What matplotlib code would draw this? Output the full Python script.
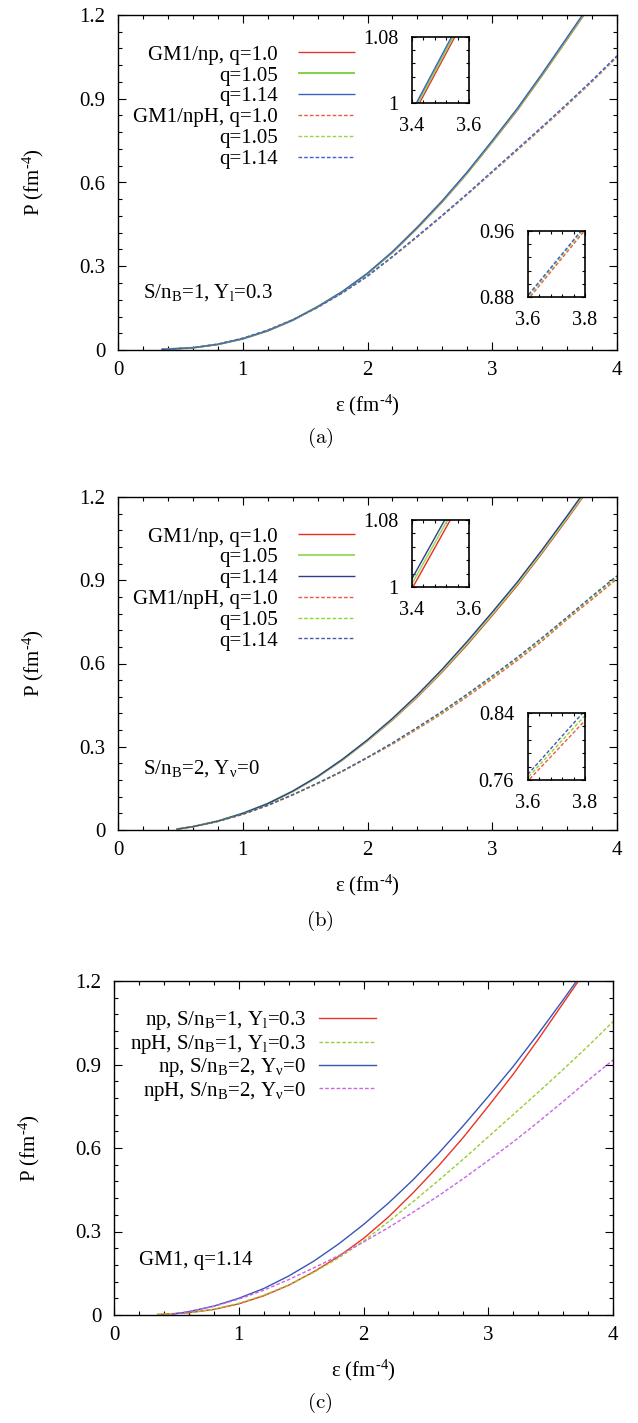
import matplotlib
matplotlib.use("Agg")
import matplotlib.pyplot as plt
from matplotlib.ticker import FixedLocator, MultipleLocator, AutoMinorLocator

plt.rcParams['font.family'] = ['Liberation Serif', 'DejaVu Serif']
plt.rcParams['mathtext.fontset'] = 'custom'
plt.rcParams['mathtext.rm'] = 'Liberation Serif'
plt.rcParams['mathtext.it'] = 'Liberation Serif:italic'
plt.rcParams['mathtext.default'] = 'rm'
plt.rcParams['axes.linewidth'] = 1.0

# ---------------- data: pressure P (fm^-4) vs energy density eps (fm^-4) ----------------
# S/nB = 1, Y_l = 0.3
eps_a_np = [0.35, 0.6, 0.8, 1.0, 1.2, 1.4, 1.6, 1.8, 2.0, 2.2, 2.4, 2.6, 2.8, 3.0, 3.2, 3.4, 3.6, 3.8]
np_a_q100 = [0.002, 0.008, 0.020, 0.040, 0.068, 0.106, 0.154, 0.208, 0.273, 0.349, 0.436, 0.530, 0.633, 0.744, 0.858, 0.983, 1.112, 1.242]
np_a_q105 = [0.002, 0.008, 0.020, 0.040, 0.069, 0.107, 0.155, 0.209, 0.274, 0.351, 0.439, 0.533, 0.636, 0.747, 0.862, 0.987, 1.116, 1.246]
np_a_q114 = [0.002, 0.008, 0.020, 0.040, 0.069, 0.107, 0.155, 0.210, 0.275, 0.352, 0.440, 0.535, 0.638, 0.750, 0.865, 0.990, 1.120, 1.250]

eps_a_nph = [0.35, 0.6, 0.8, 1.0, 1.2, 1.4, 1.6, 1.8, 2.0, 2.2, 2.4, 2.6, 2.8, 3.0, 3.2, 3.4, 3.6, 3.8, 4.0]
nph_a_q100 = [0.002, 0.008, 0.021, 0.042, 0.071, 0.108, 0.153, 0.205, 0.264, 0.333, 0.405, 0.480, 0.557, 0.636, 0.715, 0.795, 0.877, 0.961, 1.049]
nph_a_q105 = [0.002, 0.008, 0.021, 0.042, 0.071, 0.108, 0.153, 0.205, 0.265, 0.334, 0.407, 0.482, 0.559, 0.638, 0.718, 0.798, 0.880, 0.964, 1.052]
nph_a_q114 = [0.002, 0.008, 0.021, 0.042, 0.071, 0.108, 0.153, 0.205, 0.265, 0.335, 0.408, 0.483, 0.560, 0.640, 0.720, 0.800, 0.882, 0.966, 1.054]

# S/nB = 2, Y_nu = 0
eps_b_np = [0.47, 0.6, 0.8, 1.0, 1.2, 1.4, 1.6, 1.8, 2.0, 2.2, 2.4, 2.6, 2.8, 3.0, 3.2, 3.4, 3.6, 3.8]
np_b_q100 = [0.003, 0.012, 0.032, 0.059, 0.094, 0.138, 0.191, 0.252, 0.321, 0.396, 0.479, 0.570, 0.668, 0.773, 0.881, 0.998, 1.120, 1.246]
np_b_q105 = [0.003, 0.012, 0.032, 0.060, 0.095, 0.139, 0.192, 0.254, 0.323, 0.399, 0.483, 0.575, 0.674, 0.779, 0.887, 1.004, 1.126, 1.252]
np_b_q114 = [0.003, 0.012, 0.032, 0.060, 0.095, 0.140, 0.193, 0.255, 0.325, 0.402, 0.487, 0.580, 0.680, 0.785, 0.893, 1.010, 1.132, 1.258]

eps_b_nph = [0.47, 0.6, 0.8, 1.0, 1.2, 1.4, 1.6, 1.8, 2.0, 2.2, 2.4, 2.6, 2.8, 3.0, 3.2, 3.4, 3.6, 3.8, 4.0]
nph_b_q100 = [0.003, 0.012, 0.031, 0.056, 0.088, 0.126, 0.167, 0.211, 0.260, 0.309, 0.364, 0.420, 0.481, 0.545, 0.611, 0.681, 0.759, 0.831, 0.905]
nph_b_q105 = [0.003, 0.012, 0.031, 0.057, 0.089, 0.127, 0.168, 0.212, 0.261, 0.312, 0.367, 0.424, 0.486, 0.550, 0.617, 0.687, 0.763, 0.837, 0.910]
nph_b_q114 = [0.003, 0.012, 0.031, 0.057, 0.089, 0.127, 0.169, 0.213, 0.262, 0.314, 0.370, 0.428, 0.490, 0.555, 0.622, 0.693, 0.767, 0.843, 0.916]

x_ticks = [0, 1, 2, 3, 4]
x_ticklabels = ['0', '1', '2', '3', '4']
y_ticks = [0, 0.3, 0.6, 0.9, 1.2]
y_ticklabels = ['0', '0.3', '0.6', '0.9', '1.2']

labels_ab = ['GM1/np, q=1.0', 'q=1.05', 'q=1.14', 'GM1/npH, q=1.0', 'q=1.05', 'q=1.14']
labels_c = ['np, S/n$_{B}$=1, Y$_{l}$=0.3', 'npH, S/n$_{B}$=1, Y$_{l}$=0.3',
            'np, S/n$_{B}$=2, Y$_{ν}$=0', 'npH, S/n$_{B}$=2, Y$_{ν}$=0']

XLABEL = 'ε (fm$^{‐4}$)'
YLABEL = 'P (fm$^{‐4}$)'

# ---------------- layout helpers ----------------
W, H = 638, 1423
fig = plt.figure(figsize=(W / 100, H / 100), dpi=100)


def box(x0, y0, x1, y1):
    return [x0 / W, 1 - y1 / H, (x1 - x0) / W, (y1 - y0) / H]


DASH = (2.6, 1.5)
FS_TICK = 15
FS_TEXT = 15


def style_main(ax):
    ax.set_xlim(0, 4)
    ax.set_ylim(0, 1.2)
    ax.xaxis.set_major_locator(FixedLocator(x_ticks))
    ax.set_xticklabels(x_ticklabels)
    ax.xaxis.set_minor_locator(MultipleLocator(0.2))
    ax.yaxis.set_major_locator(FixedLocator(y_ticks))
    ax.set_yticklabels(y_ticklabels)
    ax.yaxis.set_minor_locator(AutoMinorLocator(5))
    ax.tick_params(which='both', direction='in', top=True, right=True, labelsize=FS_TICK, width=0.8)
    ax.tick_params(which='major', length=5.5)
    ax.tick_params(which='minor', length=2.8)
    ax.tick_params(axis='x', pad=8)
    ax.tick_params(axis='y', pad=9)
    ax.set_xlabel(XLABEL, fontsize=FS_TICK)
    ax.xaxis.set_label_coords(0.5, -0.165)
    ax.xaxis.label.set_verticalalignment('center')
    ax.set_ylabel(YLABEL, fontsize=FS_TICK)
    ax.yaxis.set_label_coords(-0.17, 0.5)
    ax.yaxis.label.set_verticalalignment('center')


def style_inset(ax, xr, yr, xl, yl):
    ax.set_xlim(*xr)
    ax.set_ylim(*yr)
    ax.set_xticks(list(xr))
    ax.set_xticklabels(xl)
    ax.set_yticks(list(yr))
    ax.set_yticklabels(yl)
    ax.xaxis.set_minor_locator(AutoMinorLocator(5))
    ax.yaxis.set_minor_locator(AutoMinorLocator(5))
    ax.tick_params(which='both', direction='in', top=True, right=True, labelsize=14.5, width=0.8)
    ax.tick_params(which='major', length=3)
    ax.tick_params(which='minor', length=2.4)
    ax.tick_params(axis='x', pad=10)
    ax.tick_params(axis='y', pad=10)
    for s in ax.spines.values():
        s.set_linewidth(1.2)


def draw_set(ax, eps_np, np_series, eps_nph, nph_series, cols_np, cols_nph, widths):
    handles = []
    for i, (ys, c) in enumerate(zip(np_series, cols_np)):
        h, = ax.plot(eps_np, ys, color=c, lw=widths[i], solid_capstyle='butt')
        handles.append(h)
    for ys, c in zip(nph_series, cols_nph):
        h, = ax.plot(eps_nph, ys, color=c, lw=1.0, dashes=DASH)
        handles.append(h)
    return handles


def add_legend(ax, handles, labels, anchor, textpad, spacing):
    ax.legend(handles, labels, loc='upper right', bbox_to_anchor=anchor, frameon=False,
              markerfirst=False, fontsize=FS_TEXT, handlelength=2.75, handletextpad=textpad,
              labelspacing=spacing, borderpad=0, borderaxespad=0)


def caption(y_px, txt):
    fig.text(320 / W, 1 - y_px / H, txt, ha='center', va='center', fontsize=15,
             math_fontfamily='cm')


# ---------------- panel (a) ----------------
cols_a_np = ['#e2382c', '#8ccf4d', '#3a62c4']
cols_a_nph = ['#e8594a', '#95d24e', '#3d5fd0']
widths_np = [1.0, 1.5, 1.0]

ax_a = fig.add_axes(box(118, 15, 617, 350))
hs = draw_set(ax_a, eps_a_np, [np_a_q100, np_a_q105, np_a_q114],
              eps_a_nph, [nph_a_q100, nph_a_q105, nph_a_q114], cols_a_np, cols_a_nph, widths_np)
style_main(ax_a)
add_legend(ax_a, hs, labels_ab, (0.475, 0.91), 0.95, 0.06)
ax_a.text(0.2, 0.205, 'S/n$_{B}$=1, Y$_{l}$=0.3', fontsize=FS_TEXT, ha='left', va='center')

ins = fig.add_axes(box(412, 37, 469, 103))
draw_set(ins, eps_a_np, [np_a_q100, np_a_q105, np_a_q114], [], [], cols_a_np, [], [1.0, 1.2, 1.0])
style_inset(ins, (3.4, 3.6), (1.0, 1.08), ['3.4', '3.6'], ['1', '1.08'])

ins = fig.add_axes(box(528, 231, 585, 297))
draw_set(ins, [], [], eps_a_nph, [nph_a_q100, nph_a_q105, nph_a_q114], [], cols_a_nph, [])
style_inset(ins, (3.6, 3.8), (0.88, 0.96), ['3.6', '3.8'], ['0.88', '0.96'])

caption(438, r'$\mathrm{(a)}$')

# ---------------- panel (b) ----------------
cols_b_np = ['#ee2a1e', '#9fdc6a', '#2c3f8e']
cols_b_nph = ['#f25545', '#88d829', '#4658a8']

ax_b = fig.add_axes(box(118, 497, 617, 830))
hs = draw_set(ax_b, eps_b_np, [np_b_q100, np_b_q105, np_b_q114],
              eps_b_nph, [nph_b_q100, nph_b_q105, nph_b_q114], cols_b_np, cols_b_nph, widths_np)
style_main(ax_b)
add_legend(ax_b, hs, labels_ab, (0.475, 0.91), 0.95, 0.06)
ax_b.text(0.2, 0.22, 'S/n$_{B}$=2, Y$_{ν}$=0', fontsize=FS_TEXT, ha='left', va='center')

ins = fig.add_axes(box(412, 520, 469, 587))
draw_set(ins, eps_b_np, [np_b_q100, np_b_q105, np_b_q114], [], [], cols_b_np, [], [1.0, 1.2, 1.0])
style_inset(ins, (3.4, 3.6), (1.0, 1.08), ['3.4', '3.6'], ['1', '1.08'])

ins = fig.add_axes(box(528, 713, 585, 780))
draw_set(ins, [], [], eps_b_nph, [nph_b_q100, nph_b_q105, nph_b_q114], [], cols_b_nph, [])
style_inset(ins, (3.6, 3.8), (0.76, 0.84), ['3.6', '3.8'], ['0.76', '0.84'])

caption(921, r'$\mathrm{(b)}$')

# ---------------- panel (c): GM1, q=1.14 ----------------
ax_c = fig.add_axes(box(114, 981, 613, 1315))
h1, = ax_c.plot(eps_a_np, np_a_q114, color='#ea3323', lw=1.0)
h2, = ax_c.plot(eps_a_nph, nph_a_q114, color='#99cc33', lw=1.0, dashes=DASH)
h3, = ax_c.plot(eps_b_np, np_b_q114, color='#3757b8', lw=1.0)
h4, = ax_c.plot(eps_b_nph, nph_b_q114, color='#c865e6', lw=1.0, dashes=DASH)
style_main(ax_c)
add_legend(ax_c, [h1, h2, h3, h4], labels_c, (0.525, 0.915), 0.62, 0.02)
ax_c.text(0.2, 0.195, 'GM1, q=1.14', fontsize=FS_TEXT, ha='left', va='center')

caption(1403, r'$\mathrm{(c)}$')

fig.savefig('out.png', dpi=100)
